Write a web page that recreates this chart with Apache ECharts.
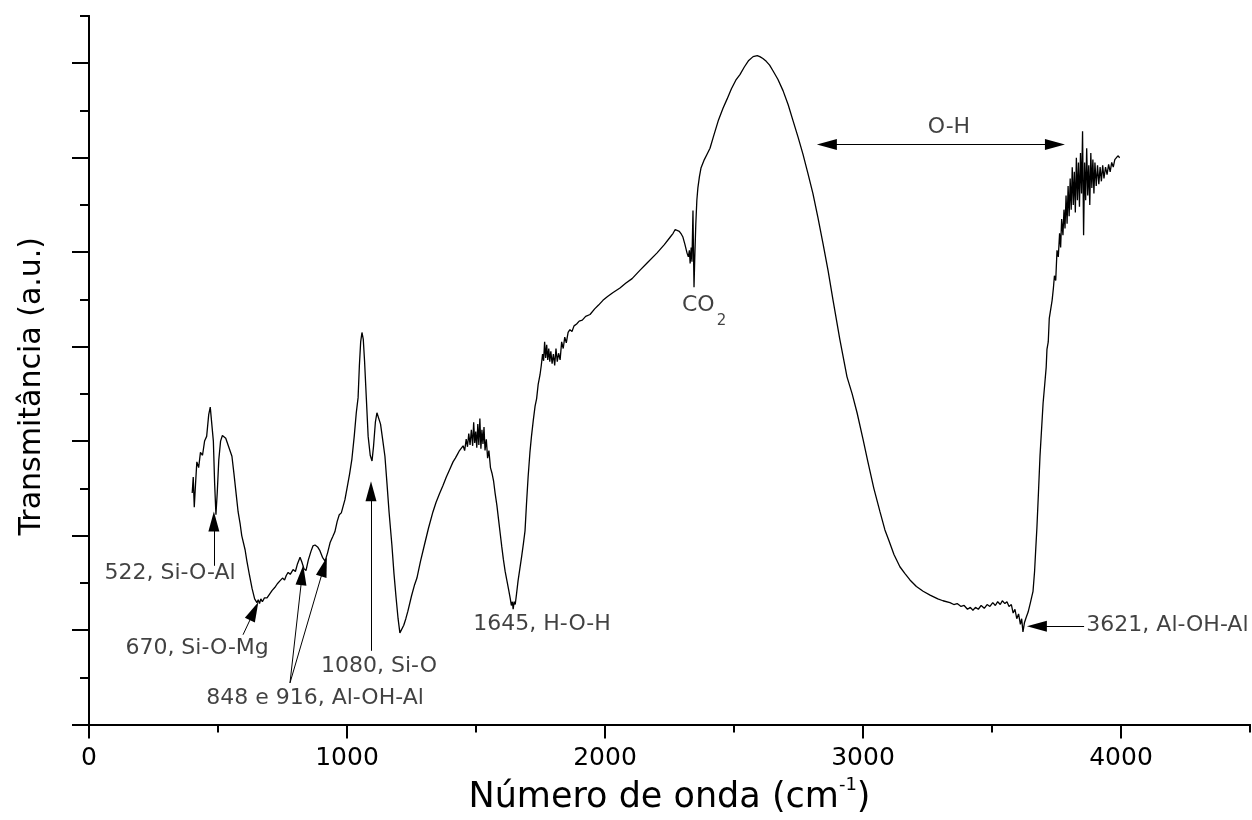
<!DOCTYPE html>
<html>
<head>
<meta charset="utf-8">
<script src="https://cdn.jsdelivr.net/npm/echarts@6/dist/echarts.min.js"></script>
<style>
  html, body { margin: 0; padding: 0; background: #fff; }
  #chart { width: 1252px; height: 820px; }
</style>
</head>
<body>
<div id="chart"></div>
<script>
// FTIR spectrum
const wavenumber = [
  400, 404, 408, 413, 418, 425, 432, 440, 448, 456,
  464, 470, 476, 482, 487, 492, 497, 503, 510, 517,
  523, 530, 540, 554, 562, 570, 578, 586, 592, 598,
  605, 612, 622, 632, 642, 651, 656, 661, 666, 672,
  680, 690, 700, 710, 720, 730, 740, 750, 758, 765,
  772, 780, 791, 800, 808, 818, 825, 833, 841, 850,
  860, 868, 876, 886, 895, 905, 915, 925, 935, 945,
  953, 962, 970, 978, 984, 992, 1000, 1010, 1019, 1028,
  1036, 1043, 1048, 1053, 1058, 1063, 1068, 1075, 1082, 1090,
  1097, 1103, 1110, 1116, 1122, 1130, 1138, 1147, 1155, 1163,
  1174, 1182, 1190, 1198, 1205, 1212, 1220, 1228, 1236, 1250,
  1262, 1271, 1285, 1300, 1316, 1333, 1345, 1358, 1372, 1385,
  1398, 1411, 1420, 1428, 1436, 1443, 1450, 1456, 1462, 1467,
  1472, 1477, 1482, 1487, 1491, 1495, 1499, 1503, 1507, 1511,
  1515, 1519, 1523, 1527, 1531, 1535, 1540, 1545, 1550, 1556,
  1562, 1568, 1574, 1581, 1587, 1593, 1600, 1606, 1613, 1620,
  1627, 1633, 1637, 1641, 1644, 1648, 1652, 1657, 1663, 1670,
  1677, 1684, 1690, 1696, 1702, 1709, 1715, 1722, 1729, 1735,
  1741, 1748, 1753, 1758, 1762, 1766, 1770, 1774, 1778, 1782,
  1786, 1790, 1795, 1800, 1805, 1810, 1815, 1820, 1826, 1832,
  1838, 1844, 1850, 1857, 1864, 1872, 1880, 1890, 1900, 1912,
  1925, 1942, 1960, 1975, 1992, 2010, 2030, 2058, 2080, 2105,
  2136, 2165, 2201, 2230, 2250, 2264, 2272, 2279, 2288, 2296,
  2302, 2310, 2318, 2323, 2327, 2330, 2334, 2337, 2341, 2343,
  2345, 2348, 2352, 2356, 2360, 2366, 2372, 2385, 2396, 2407,
  2420, 2440, 2457, 2473, 2490, 2507, 2523, 2540, 2557, 2574,
  2590, 2600, 2612, 2625, 2638, 2651, 2670, 2690, 2710, 2729,
  2748, 2767, 2786, 2806, 2825, 2845, 2865, 2884, 2910, 2938,
  2958, 2977, 3000, 3019, 3042, 3066, 3085, 3100, 3120, 3143,
  3162, 3182, 3207, 3233, 3260, 3290, 3310, 3337, 3352, 3365,
  3380, 3392, 3405, 3416, 3426, 3436, 3447, 3458, 3470, 3481,
  3492, 3503, 3513, 3522, 3532, 3540, 3550, 3558, 3566, 3575,
  3582, 3589, 3596, 3603, 3610, 3615, 3620, 3626, 3632, 3640,
  3648, 3654, 3659, 3665, 3670, 3674, 3680, 3686, 3692, 3698,
  3705, 3710, 3713, 3718, 3722, 3728, 3733, 3738, 3742, 3747,
  3752, 3757, 3762, 3766, 3770, 3775, 3779, 3783, 3787, 3791,
  3795, 3799, 3803, 3807, 3811, 3815, 3819, 3823, 3827, 3831,
  3835, 3839, 3843, 3847, 3851, 3855, 3859, 3863, 3867, 3871,
  3875, 3879, 3883, 3887, 3891, 3895, 3899, 3904, 3909, 3914,
  3919, 3924, 3929, 3934, 3940, 3946, 3952, 3958, 3964, 3970,
  3976, 3982, 3988, 3995
];
const transmittance = [
  2.45, 2.62, 2.30, 2.55, 2.78, 2.72, 2.88, 2.85, 3.00, 3.05,
  3.28, 3.36, 3.34, 3.00, 2.55, 2.22, 2.45, 2.80, 3.00, 3.06,
  3.07, 3.03, 2.95, 2.84, 2.65, 2.45, 2.25, 2.12, 2.00, 1.98,
  1.85, 1.73, 1.58, 1.44, 1.33, 1.29, 1.32, 1.28, 1.33, 1.30,
  1.34, 1.34, 1.38, 1.42, 1.45, 1.49, 1.52, 1.55, 1.53, 1.58,
  1.61, 1.59, 1.64, 1.62, 1.70, 1.77, 1.72, 1.65, 1.63, 1.74,
  1.83, 1.89, 1.90, 1.88, 1.84, 1.77, 1.73, 1.82, 1.93, 1.99,
  2.04, 2.15, 2.22, 2.24, 2.26, 2.38, 2.50, 2.65, 2.81, 3.05,
  3.30, 3.46, 3.80, 4.05, 4.15, 4.08, 3.85, 3.45, 3.05, 2.85,
  2.79, 2.95, 3.20, 3.30, 3.29, 3.18, 3.02, 2.84, 2.55, 2.25,
  1.90, 1.60, 1.35, 1.12, 0.97, 0.98, 1.05, 1.12, 1.20, 1.36,
  1.48, 1.55, 1.73, 1.90, 2.08, 2.25, 2.35, 2.44, 2.53, 2.62,
  2.70, 2.78, 2.82, 2.86, 2.90, 2.88, 2.95, 2.90, 3.02, 2.94,
  3.08, 2.96, 3.12, 2.95, 3.20, 2.98, 3.10, 2.93, 3.18, 2.96,
  3.24, 2.92, 3.12, 2.97, 3.15, 2.90, 3.02, 2.82, 2.90, 2.72,
  2.66, 2.58, 2.45, 2.32, 2.18, 2.04, 1.88, 1.75, 1.62, 1.52,
  1.42, 1.33, 1.26, 1.30, 1.22, 1.30, 1.27, 1.38, 1.52, 1.65,
  1.78, 1.92, 2.05, 2.35, 2.62, 2.88, 3.05, 3.22, 3.37, 3.45,
  3.60, 3.70, 3.80, 3.92, 3.85, 4.05, 3.88, 4.02, 3.86, 3.98,
  3.84, 3.95, 3.82, 3.92, 3.80, 3.98, 3.84, 3.93, 3.86, 4.05,
  3.98, 4.10, 4.04, 4.15, 4.18, 4.16, 4.22, 4.24, 4.27, 4.28,
  4.32, 4.34, 4.40, 4.44, 4.49, 4.53, 4.57, 4.62, 4.67, 4.72,
  4.81, 4.89, 4.99, 5.08, 5.15, 5.20, 5.24, 5.26, 5.22, 5.19,
  5.16, 5.08, 4.99, 4.95, 5.02, 4.88, 5.05, 4.90, 5.44, 5.00,
  4.63, 4.95, 5.30, 5.55, 5.68, 5.80, 5.89, 5.98, 6.04, 6.10,
  6.22, 6.40, 6.52, 6.62, 6.73, 6.82, 6.88, 6.96, 7.03, 7.07,
  7.08, 7.07, 7.05, 7.02, 6.98, 6.92, 6.83, 6.71, 6.56, 6.39,
  6.22, 6.04, 5.84, 5.62, 5.37, 5.09, 4.80, 4.49, 4.08, 3.68,
  3.50, 3.30, 3.02, 2.78, 2.50, 2.25, 2.06, 1.95, 1.80, 1.67,
  1.60, 1.53, 1.46, 1.41, 1.37, 1.33, 1.31, 1.29, 1.27, 1.28,
  1.25, 1.26, 1.22, 1.24, 1.21, 1.24, 1.22, 1.26, 1.23, 1.27,
  1.25, 1.29, 1.26, 1.30, 1.27, 1.31, 1.28, 1.30, 1.25, 1.27,
  1.18, 1.22, 1.12, 1.17, 1.06, 1.12, 0.98, 1.08, 1.13, 1.19,
  1.28, 1.35, 1.41, 1.62, 1.88, 2.08, 2.45, 2.84, 3.12, 3.40,
  3.62, 3.78, 3.97, 4.05, 4.30, 4.28, 4.49, 4.62, 4.75, 4.70,
  5.02, 4.95, 5.20, 5.05, 5.35, 5.18, 5.45, 5.25, 5.60, 5.30,
  5.70, 5.38, 5.78, 5.45, 5.90, 5.50, 5.85, 5.42, 6.00, 5.55,
  5.95, 5.48, 6.05, 5.62, 6.28, 5.18, 5.95, 5.55, 6.10, 5.60,
  5.92, 5.50, 6.05, 5.68, 5.98, 5.62, 5.95, 5.70, 5.92, 5.72,
  5.90, 5.75, 5.92, 5.78, 5.90, 5.82, 5.93, 5.85, 5.95, 5.90,
  5.98, 5.96, 6.02, 6.00
];

// axis ticks
const xMajorTicks = [0, 1000, 2000, 3000, 4000];
const xMinorTicks = [500, 1500, 2500, 3500, 4500];
const yMajorTicks = [0, 1, 2, 3, 4, 5, 6, 7];
const yMinorTicks = [0.5, 1.5, 2.5, 3.5, 4.5, 5.5, 6.5, 7.5];

// band annotations (text placed in data coordinates)
const noteText = ['522, Si-O-Al', '670, Si-O-Mg', '848 e 916, Al-OH-Al', '1080, Si-O',
  '1645, H-O-H', '{a|CO}{b|2}', 'O-H', '3621, Al-OH-Al'];
const noteX = [314, 419, 876, 1124, 1756, 2384, 3333, 4180];
const noteY = [1.60, 0.81, 0.28, 0.62, 1.06, 4.44, 6.32, 1.05];

// arrows: tail -> head
const arrowFrom = [[484, 1.68], [597, 0.95], [779, 0.44], [779, 0.44], [1093, 0.78], [2860, 6.14], [3857, 1.04]];
const arrowTo = [[484, 2.15], [640, 1.20], [826, 1.58], [911, 1.67], [1093, 2.47], [3744, 6.14], [3674, 1.04]];
const arrowBoth = [false, false, false, false, false, true, false];

const FONT = 'DejaVu Sans';
const chart = echarts.init(document.getElementById('chart'));

const spectrum = wavenumber.map((w, i) => [w, transmittance[i]]);
const arrows = arrowFrom.map((p, i) => [
  { coord: p, symbol: arrowBoth[i] ? 'triangle' : 'none' },
  { coord: arrowTo[i], symbol: 'triangle' }
]);
const notes = noteText.map((t, i) => ({ name: t, value: [noteX[i], noteY[i]] }));

const axisLine = { show: true, lineStyle: { color: '#000', width: 2 } };

chart.setOption({
  animation: false,
  backgroundColor: '#fff',
  textStyle: { fontFamily: FONT, color: '#000' },
  grid: { left: 89, right: 2, top: 16, bottom: 93 },
  xAxis: [
    {
      type: 'value', min: 0, max: 4500, position: 'bottom',
      axisLine,
      axisTick: { customValues: xMajorTicks, length: 14, lineStyle: { color: '#000', width: 2 } },
      axisLabel: {
        customValues: xMajorTicks, fontSize: 25, color: '#000', margin: 21, fontFamily: FONT,
        formatter: v => String(v)
      },
      splitLine: { show: false },
      name: 'Número de onda (cm{s|-1})',
      nameLocation: 'middle',
      nameGap: 52,
      nameTextStyle: {
        fontSize: 35, color: '#000', fontFamily: FONT,
        rich: { s: { fontSize: 18, padding: [0, 0, 24, 0], color: '#000', fontFamily: FONT } }
      }
    },
    {
      type: 'value', min: 0, max: 4500, position: 'bottom',
      axisLine,
      axisTick: { customValues: xMinorTicks, length: 8, lineStyle: { color: '#000', width: 2 } },
      axisLabel: { show: false },
      splitLine: { show: false }
    }
  ],
  yAxis: [
    {
      type: 'value', min: 0, max: 7.5, position: 'left',
      axisLine,
      axisTick: { customValues: yMajorTicks, length: 17, lineStyle: { color: '#000', width: 2 } },
      axisLabel: { show: false },
      splitLine: { show: false },
      name: 'Transmitância (a.u.)',
      nameLocation: 'middle',
      nameGap: 42,
      nameTextStyle: { fontSize: 30, color: '#000', fontFamily: FONT, padding: [0, 32, 0, 0] }
    },
    {
      type: 'value', min: 0, max: 7.5, position: 'left',
      axisLine,
      axisTick: { customValues: yMinorTicks, length: 9, lineStyle: { color: '#000', width: 2 } },
      axisLabel: { show: false },
      splitLine: { show: false }
    }
  ],
  series: [
    {
      type: 'line',
      data: spectrum,
      showSymbol: false,
      symbol: 'none',
      lineStyle: { color: '#000', width: 1.3 },
      silent: true,
      markLine: {
        silent: true,
        symbolSize: [11, 20],
        label: { show: false },
        lineStyle: { color: '#000', width: 1, type: 'solid' },
        emphasis: { disabled: true },
        data: arrows
      }
    },
    {
      type: 'scatter',
      data: notes,
      symbolSize: 0,
      silent: true,
      label: {
        show: true,
        position: 'inside',
        formatter: p => p.name,
        fontSize: 22,
        color: '#111',
        fontFamily: FONT,
        rich: {
          a: { fontSize: 22, color: '#111', fontFamily: FONT },
          b: { fontSize: 15, color: '#111', fontFamily: FONT, padding: [32, 0, 0, 2] }
        }
      }
    }
  ]
});
</script>
</body>
</html>
